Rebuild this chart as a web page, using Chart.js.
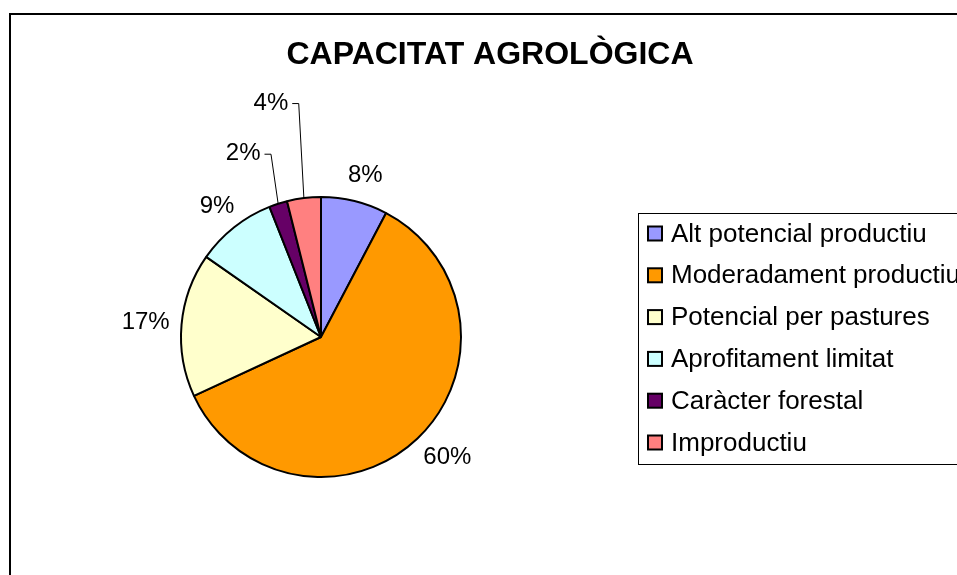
<!DOCTYPE html>
<html>
<head>
<meta charset="utf-8">
<script src="https://cdn.jsdelivr.net/npm/chart.js@4.4.1/dist/chart.umd.min.js"></script>
<style>
  html, body { margin: 0; padding: 0; background: #fff; overflow: hidden; }
  canvas { display: block; }
</style>
</head>
<body>
<canvas id="agroChart" width="957" height="575"></canvas>
<script>
/* Capacitat agrològica - pie */
const chartTitle = "CAPACITAT AGROLÒGICA";
const categories = ["Alt potencial productiu", "Moderadament productiu", "Potencial per pastures", "Aprofitament limitat", "Caràcter forestal", "Improductiu"];
const shares = [7.7, 60.4, 16.6, 9.3, 2.1, 3.9];
const sliceColors = ["#9999FF", "#FF9900", "#FFFFCC", "#CCFFFF", "#660066", "#FF8080"];
const pctLabels = shares.map((v) => `${Math.round(v)}%`);

const FONT = "'Liberation Sans', Arial, sans-serif";

// labels the user dragged out (with leader lines), offset from the slice edge
const movedLabels = { 4: [-35, -50], 5: [-33, -95] };

const decorPlugin = {
  id: "decor",
  afterDraw(chart) {
    const ctx = chart.ctx;
    ctx.save();

    // outer frame
    ctx.strokeStyle = "#000";
    ctx.lineWidth = 2;
    ctx.strokeRect(10, 14, 1000, 700);

    // title
    ctx.fillStyle = "#000";
    ctx.font = `bold 32px ${FONT}`;
    ctx.textAlign = "center";
    ctx.textBaseline = "middle";
    ctx.fillText(chartTitle, 490, 55);

    // data labels
    const meta = chart.getDatasetMeta(0);
    ctx.font = `24px ${FONT}`;
    meta.data.forEach((arc, i) => {
      const { x, y, startAngle, endAngle, outerRadius } = arc.getProps(["x", "y", "startAngle", "endAngle", "outerRadius"], true);
      const mid = (startAngle + endAngle) / 2;
      const cos = Math.cos(mid);
      const sin = Math.sin(mid);
      const text = pctLabels[i];
      const w = ctx.measureText(text).width;
      const h = 22;
      ctx.textAlign = "center";
      ctx.textBaseline = "middle";
      if (movedLabels[i]) {
        const ex = x + outerRadius * cos;
        const ey = y + outerRadius * sin;
        const lx = ex + movedLabels[i][0];
        const ly = ey + movedLabels[i][1];
        ctx.fillText(text, lx, ly);
        ctx.strokeStyle = "#000";
        ctx.lineWidth = 1;
        ctx.beginPath();
        ctx.moveTo(lx + w / 2 + 4, ly + 0.5);
        ctx.lineTo(lx + w / 2 + 10.5, ly + 0.5);
        ctx.lineTo(ex, ey);
        ctx.stroke();
      } else {
        const d = outerRadius + 15;
        const cx = x + d * cos + (w / 2) * cos + 3;
        const cy = y + d * sin + (h / 2) * sin;
        ctx.fillText(text, cx, cy);
      }
    });

    // legend box
    const lx = 638, ly = 213, rowH = 41.8;
    ctx.strokeStyle = "#000";
    ctx.lineWidth = 1;
    ctx.strokeRect(lx + 0.5, ly + 0.5, 400, 251);
    ctx.font = `26px ${FONT}`;
    ctx.textAlign = "left";
    ctx.textBaseline = "middle";
    categories.forEach((name, i) => {
      const ry = ly + 20.5 + i * rowH;
      ctx.fillStyle = sliceColors[i];
      ctx.fillRect(648, ry - 7, 14, 14);
      ctx.strokeStyle = "#000";
      ctx.lineWidth = 2;
      ctx.strokeRect(648, ry - 7, 14, 14);
      ctx.fillStyle = "#000";
      ctx.fillText(name, 671, ry + 1);
    });

    ctx.restore();
  }
};

new Chart(document.getElementById("agroChart"), {
  type: "pie",
  data: {
    labels: categories,
    datasets: [{
      data: shares,
      backgroundColor: sliceColors,
      borderColor: "#000",
      borderWidth: 2
    }]
  },
  options: {
    responsive: false,
    animation: false,
    layout: { padding: { left: 180, right: 495, top: 196, bottom: 97 } },
    plugins: {
      legend: { display: false },
      tooltip: { enabled: false }
    }
  },
  plugins: [decorPlugin]
});
</script>
</body>
</html>
